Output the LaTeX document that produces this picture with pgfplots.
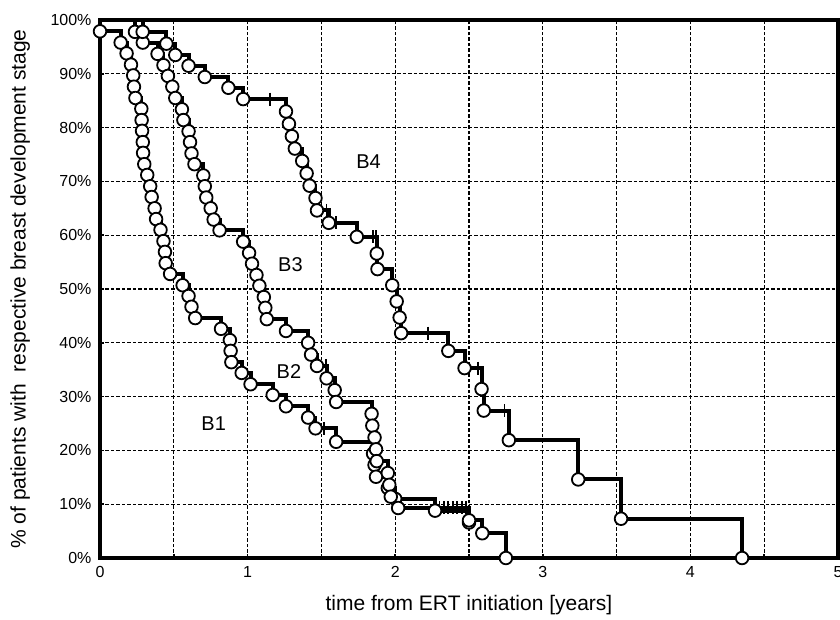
\documentclass[border=0pt]{standalone}
\usepackage{fontspec}
\setmainfont{Liberation Sans}
\usepackage{pgfplots}
\pgfplotsset{compat=1.18}
\begin{document}
\begin{tikzpicture}
\path[use as bounding box] (-100pt,-61pt) rectangle (740pt,558pt);
\begin{axis}[
 width=738pt, height=538pt, scale only axis,
 xmin=0, xmax=5, ymin=0, ymax=100,
 xtick={0,1,2,3,4,5}, minor xtick={0.5,1.5,2.5,3.5,4.5},
 ytick={0,10,...,100},
 yticklabel={\pgfmathprintnumber{\tick}\%},
 grid=both,
 major grid style={black, line width=1.3pt, dash pattern=on 3.5pt off 2pt},
 minor grid style={black, line width=1.3pt, dash pattern=on 3.5pt off 2pt},
 axis line style={line width=4.5pt},
 tick style={black, line width=1.5pt}, major tick length=4pt, minor tick length=4pt,
 tick align=inside, xtick pos=bottom, ytick pos=left,
 ticklabel style={font=\fontsize{16}{19}\selectfont},
 xticklabel style={yshift=-5pt},
 yticklabel style={xshift=-5pt},
 /pgf/number format/assume math mode=true,
 xlabel={time from ERT initiation [years]},
 ylabel={\% of patients with\ \ respective breast development stage},
 xlabel style={at={(axis description cs:0.5,-0.087)}, anchor=center, font=\fontsize{21}{25}\selectfont},
 ylabel style={at={(axis description cs:-0.108,0.5)}, anchor=center, rotate=0, font=\fontsize{21}{25}\selectfont},
 clip=false,
 every axis plot/.append style={black},
]
% ---- step lines
\addplot[const plot, line width=4pt] coordinates {
(0,100)(0,97.9)(0.14,95.8)(0.18,93.8)(0.21,91.7)(0.225,89.7)(0.23,87.6)(0.24,85.5)(0.28,83.5)(0.282,81.4)(0.285,79.4)(0.29,77.3)(0.292,75.3)(0.30,73.2)(0.32,71.2)(0.34,69.1)(0.35,67.1)(0.37,65.0)(0.38,63.0)(0.41,61.0)(0.43,58.9)(0.44,56.9)(0.445,54.8)(0.475,52.8)(0.56,50.7)(0.60,48.7)(0.62,46.7)(0.645,44.6)(0.82,42.6)(0.88,40.5)(0.885,38.5)(0.89,36.4)(0.96,34.4)(1.02,32.3)(1.17,30.3)(1.26,28.2)(1.41,26.1)(1.46,24.1)(1.52,24.1)(1.60,21.6)(1.85,19.4)(1.86,17.3)(1.87,15.1)(1.95,13.0)(2.0,11.0)(2.27,8.8)(2.5,6.6)(2.52,6.6)};
\addplot[const plot, line width=4pt] coordinates {
(0,100)(0.237,97.8)(0.29,95.8)(0.39,93.7)(0.43,91.6)(0.46,89.6)(0.49,87.6)(0.51,85.5)(0.555,83.4)(0.565,81.4)(0.60,79.3)(0.61,77.3)(0.62,75.2)(0.64,73.2)(0.70,71.1)(0.71,69.1)(0.72,67.0)(0.75,65.0)(0.77,62.9)(0.81,60.9)(0.97,58.8)(1.0,58.8)(1.01,56.7)(1.03,54.7)(1.06,52.6)(1.08,50.6)(1.11,48.5)(1.12,46.5)(1.13,44.4)(1.26,42.2)(1.41,40.0)(1.43,37.8)(1.47,35.7)(1.53,35.7)(1.535,33.4)(1.59,31.2)(1.60,29.0)(1.84,26.8)(1.845,24.6)(1.86,22.4)(1.87,20.2)(1.875,18.0)(1.95,15.8)(1.96,13.6)(1.97,11.4)(2.02,9.3)(2.50,7.0)(2.59,4.6)(2.75,0)};
\addplot[const plot, line width=4pt] coordinates {
(0,100)(0.289,97.8)(0.45,95.6)(0.51,93.5)(0.60,91.5)(0.71,89.4)(0.87,87.4)(0.97,85.3)(1.26,83.0)(1.28,80.7)(1.30,78.4)(1.32,76.1)(1.37,73.8)(1.40,71.5)(1.42,69.2)(1.46,66.9)(1.47,64.6)(1.55,62.3)(1.74,59.7)(1.875,56.6)(1.88,53.7)(1.98,50.7)(2.01,47.7)(2.03,44.7)(2.04,41.8)(2.36,38.5)(2.47,35.3)(2.585,31.4)(2.60,27.4)(2.77,21.9)(3.24,14.6)(3.53,7.3)(4.35,0)};
% ---- censored (+)
\addplot[only marks, mark=|, mark size=6.5pt, mark options={line width=1.8pt}] coordinates {
(1.52,24.1)
(1.0,58.8)(1.53,35.7)(2.30,9.3)(2.33,9.3)(2.36,9.3)(2.39,9.3)(2.42,9.3)(2.45,9.3)(2.48,9.3)
(1.15,85.3)(1.535,64.6)(1.60,62.3)(1.85,59.7)(1.87,59.7)(2.22,41.8)(2.56,35.3)(2.74,27.4)};
% ---- events (o)
\addplot[only marks, mark=*, mark size=6.3pt, mark options={fill=white, draw=black, line width=1.8pt}] coordinates {
(0,97.9)(0.14,95.8)(0.18,93.8)(0.21,91.7)(0.225,89.7)(0.23,87.6)(0.24,85.5)(0.28,83.5)(0.282,81.4)(0.285,79.4)(0.29,77.3)(0.292,75.3)(0.30,73.2)(0.32,71.2)(0.34,69.1)(0.35,67.1)(0.37,65.0)(0.38,63.0)(0.41,61.0)(0.43,58.9)(0.44,56.9)(0.445,54.8)(0.475,52.8)(0.56,50.7)(0.60,48.7)(0.62,46.7)(0.645,44.6)(0.82,42.6)(0.88,40.5)(0.885,38.5)(0.89,36.4)(0.96,34.4)(1.02,32.3)(1.17,30.3)(1.26,28.2)(1.41,26.1)(1.46,24.1)(1.60,21.6)(1.85,19.4)(1.86,17.3)(1.87,15.1)(1.95,13.0)(2.0,11.0)(2.27,8.8)(2.5,6.6)
(0.237,97.8)(0.29,95.8)(0.39,93.7)(0.43,91.6)(0.46,89.6)(0.49,87.6)(0.51,85.5)(0.555,83.4)(0.565,81.4)(0.60,79.3)(0.61,77.3)(0.62,75.2)(0.64,73.2)(0.70,71.1)(0.71,69.1)(0.72,67.0)(0.75,65.0)(0.77,62.9)(0.81,60.9)(0.97,58.8)(1.01,56.7)(1.03,54.7)(1.06,52.6)(1.08,50.6)(1.11,48.5)(1.12,46.5)(1.13,44.4)(1.26,42.2)(1.41,40.0)(1.43,37.8)(1.47,35.7)(1.535,33.4)(1.59,31.2)(1.60,29.0)(1.84,26.8)(1.845,24.6)(1.86,22.4)(1.87,20.2)(1.875,18.0)(1.95,15.8)(1.96,13.6)(1.97,11.4)(2.02,9.3)(2.50,7.0)(2.59,4.6)(2.75,0)
(0.289,97.8)(0.45,95.6)(0.51,93.5)(0.60,91.5)(0.71,89.4)(0.87,87.4)(0.97,85.3)(1.26,83.0)(1.28,80.7)(1.30,78.4)(1.32,76.1)(1.37,73.8)(1.40,71.5)(1.42,69.2)(1.46,66.9)(1.47,64.6)(1.55,62.3)(1.74,59.7)(1.875,56.6)(1.88,53.7)(1.98,50.7)(2.01,47.7)(2.03,44.7)(2.04,41.8)(2.36,38.5)(2.47,35.3)(2.585,31.4)(2.60,27.4)(2.77,21.9)(3.24,14.6)(3.53,7.3)(4.35,0)};
\node[font=\fontsize{20}{24}\selectfont] at (axis cs:0.77,25) {B1};
\node[font=\fontsize{20}{24}\selectfont] at (axis cs:1.28,34.7) {B2};
\node[font=\fontsize{20}{24}\selectfont] at (axis cs:1.29,54.6) {B3};
\node[font=\fontsize{20}{24}\selectfont] at (axis cs:1.82,73.6) {B4};
\end{axis}
\end{tikzpicture}
\end{document}
